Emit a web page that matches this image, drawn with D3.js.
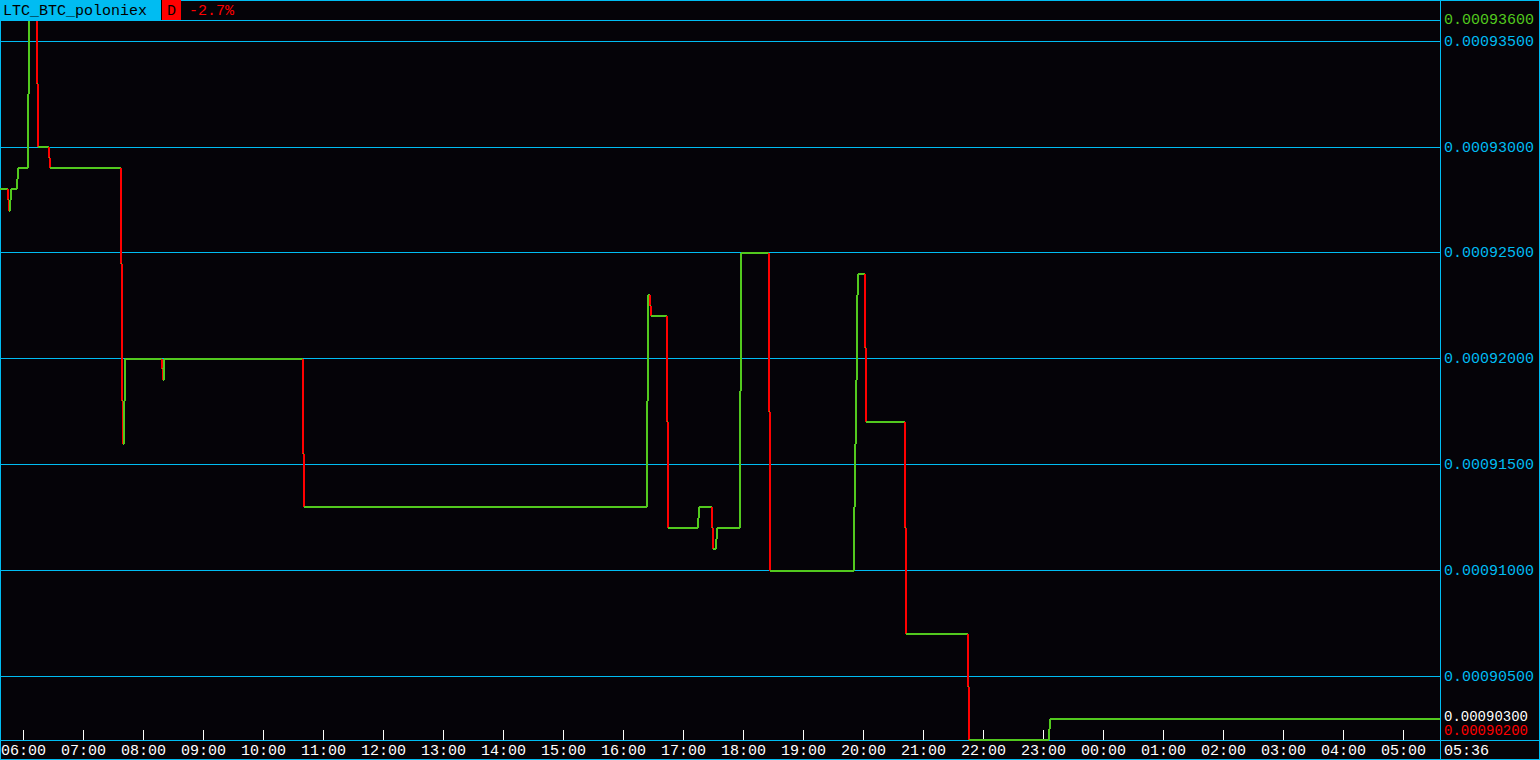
<!DOCTYPE html>
<html><head><meta charset="utf-8">
<script src="https://cdn.jsdelivr.net/npm/d3@7"></script>
<style>html,body{margin:0;padding:0;background:#050308;overflow:hidden}svg{display:block}</style>
</head><body><svg id="c" width="1540" height="760"></svg>
<script>
// ---- data ----
const symbol = "LTC_BTC_poloniex";
const periodLabel = "D";
const changeLabel = "-2.7%";
const startTime = "05:36";   // day 1
const endTime = "05:36";     // day 2
const endLabel = "05:36";
const times = ["05:36","05:44","05:45","05:46","05:47","05:53","05:54","06:04","06:05","06:13","06:14",
  "06:25","06:26","07:37","07:38","07:39","07:40","07:41","08:18","08:19","08:20","10:39","10:40",
  "16:23","16:24","16:26","16:27","16:43","16:44","17:14","17:15","17:28","17:29","17:32","17:33",
  "17:56","17:57","18:25","18:26","19:50","19:51","19:52","19:53","19:54","20:01","20:02",
  "20:41","20:42","21:44","21:45","23:05","23:06"];
const prices = [0.000928,0.0009275,0.000927,0.0009275,0.000928,0.0009285,0.000929,0.0009325,0.000936,0.000933,0.00093,
  0.0009295,0.000929,0.0009245,0.000918,0.000916,0.000918,0.00092,0.0009195,0.000919,0.00092,0.0009155,0.000913,
  0.000918,0.000923,0.0009225,0.000922,0.000917,0.000912,0.0009125,0.000913,0.000912,0.000911,0.0009115,0.000912,
  0.0009185,0.000925,0.0009175,0.00091,0.000913,0.000916,0.000919,0.000923,0.000924,0.0009205,0.000917,
  0.000912,0.000907,0.0009045,0.000902,0.0009025,0.000903];
const gridLevels = [0.000935,0.00093,0.000925,0.00092,0.000915,0.00091,0.000905];
const maxPrice = 0.000936, minPrice = 0.000902, lastPrice = 0.000903;
const hourTicks = ["06:00","07:00","08:00","09:00","10:00","11:00","12:00","13:00","14:00","15:00","16:00",
  "17:00","18:00","19:00","20:00","21:00","22:00","23:00","00:00","01:00","02:00","03:00","04:00","05:00"];

// ---- helpers ----
const parse = d3.timeParse("%Y-%m-%d %H:%M");
function toDate(hm, forceNext){
  const next = forceNext || hm < startTime;
  return parse((next ? "2018-01-02 " : "2018-01-01 ") + hm);
}
const W = 1540, H = 760, PW = 1440, PT = 20, PB = 740;
const C_CYAN = "#00bcf2", C_GREEN = "#52c91e", C_RED = "#ff0000", C_BG = "#050308";
const FONT = "'Liberation Mono', 'DejaVu Sans Mono', monospace";

const x = d3.scaleTime().domain([toDate(startTime), toDate(endTime, true)]).range([0, PW]);
const y = d3.scaleLinear().domain([minPrice, maxPrice]).range([PB, PT]);

const svg = d3.select("#c");
svg.append("rect").attr("width", W).attr("height", H).attr("fill", C_BG);

// grid lines
const gridAll = [maxPrice].concat(gridLevels);
svg.append("g").selectAll("line").data(gridAll).join("line")
  .attr("x1", 0).attr("x2", PW)
  .attr("y1", d => Math.floor(y(d)) + 0.5).attr("y2", d => Math.floor(y(d)) + 0.5)
  .attr("stroke", C_CYAN).attr("stroke-width", 1).attr("shape-rendering", "crispEdges");

// frame
const frame = svg.append("g").attr("stroke", C_CYAN).attr("stroke-width", 1).attr("shape-rendering", "crispEdges").attr("fill", "none");
frame.append("rect").attr("x", 0.5).attr("y", 0.5).attr("width", W - 1).attr("height", H - 1);
frame.append("line").attr("x1", PW + 0.5).attr("x2", PW + 0.5).attr("y1", 0).attr("y2", H);
frame.append("line").attr("x1", 0).attr("x2", W).attr("y1", PB + 0.5).attr("y2", PB + 0.5);

// bottom axis (ticks upward)
const tickDates = hourTicks.map(t => toDate(t));
const xAxis = d3.axisBottom(x).tickValues(tickDates).tickFormat(d3.timeFormat("%H:%M"))
  .tickSize(-10).tickPadding(0).offset(-0.5);
const gx = svg.append("g").attr("transform", `translate(0,${PB})`).call(xAxis);
gx.select(".domain").remove();
gx.selectAll(".tick line").attr("stroke", "#ffffff").attr("shape-rendering", "crispEdges");
gx.selectAll(".tick text").attr("y", 15).attr("dy", null).attr("fill", "#ffffff")
  .attr("font-family", FONT).attr("font-size", 15);

// data step line
const pts = times.map((t, i) => ({t: toDate(t), p: prices[i]}));
const segs = [];
for (let i = 1; i < pts.length; i++) {
  segs.push({x1: x(pts[i-1].t), x2: x(pts[i].t), y1: y(pts[i-1].p), y2: y(pts[i-1].p), c: C_GREEN});
  segs.push({x1: x(pts[i].t), x2: x(pts[i].t), y1: y(pts[i-1].p), y2: y(pts[i].p),
    c: pts[i].p < pts[i-1].p ? C_RED : C_GREEN});
}
const last = pts[pts.length - 1];
segs.push({x1: x(last.t), x2: PW, y1: y(last.p), y2: y(last.p), c: C_GREEN});

svg.append("defs").append("clipPath").attr("id", "clip")
  .append("rect").attr("x", 0).attr("y", PT + 1).attr("width", PW).attr("height", H - PT - 1);
svg.append("g").attr("clip-path", "url(#clip)").selectAll("line").data(segs).join("line")
  .attr("x1", d => Math.round(d.x1)).attr("x2", d => Math.round(d.x2))
  .attr("y1", d => Math.round(d.y1)).attr("y2", d => Math.round(d.y2))
  .attr("stroke", d => d.c).attr("stroke-width", 2).attr("shape-rendering", "crispEdges");

// right labels
const fmt = d3.format(".8f");
const rl = svg.append("g").attr("font-family", FONT).attr("font-size", 15);
rl.selectAll("text.g").data(gridLevels).join("text").attr("class", "g")
  .attr("x", PW + 4).attr("y", d => Math.floor(y(d)) + 5).attr("fill", C_CYAN).text(fmt);
rl.append("text").attr("x", PW + 4).attr("y", Math.floor(y(maxPrice)) + 4).attr("fill", C_GREEN).text(fmt(maxPrice));
rl.append("text").attr("x", PW + 4).attr("y", Math.round(y(lastPrice)) + 2).attr("fill", "#ffffff")
  .attr("font-size", 14).text(fmt(lastPrice));
rl.append("text").attr("x", PW + 4).attr("y", PB - 5).attr("fill", C_RED)
  .attr("font-size", 14).text(fmt(minPrice));
rl.append("text").attr("x", PW + 4).attr("y", PB + 15).attr("fill", "#ffffff").text(endLabel);

// header
svg.append("rect").attr("x", 0).attr("y", 0).attr("width", 161).attr("height", PT).attr("fill", C_CYAN);
svg.append("rect").attr("x", 161).attr("y", 0).attr("width", 20).attr("height", PT).attr("fill", C_RED);
svg.append("line").attr("x1", 161.5).attr("x2", 161.5).attr("y1", 0).attr("y2", PT).attr("stroke", "#000").attr("shape-rendering", "crispEdges");
const hd = svg.append("g").attr("font-family", FONT).attr("font-size", 15);
hd.append("text").attr("x", 3).attr("y", 15).attr("fill", "#000").text(symbol);
hd.append("text").attr("x", 167).attr("y", 15).attr("fill", "#000").text(periodLabel);
hd.append("text").attr("x", 189).attr("y", 15).attr("fill", C_RED).text(changeLabel);
</script></body></html>
